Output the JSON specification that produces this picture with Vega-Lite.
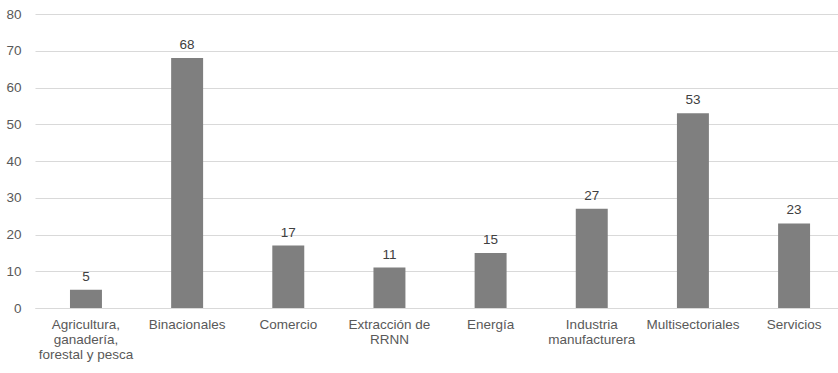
{
  "$schema": "https://vega.github.io/schema/vega-lite/v6.json",
  "width": 803,
  "height": 294,
  "autosize": {"type": "none"},
  "padding": {"left": 35, "top": 14, "right": 0, "bottom": 65},
  "background": "white",
  "config": {
    "view": {"stroke": null},
    "font": "Liberation Sans"
  },
  "data": {
    "values": [
      {"sector": "Agricultura,\nganadería,\nforestal y pesca", "n": 5},
      {"sector": "Binacionales", "n": 68},
      {"sector": "Comercio", "n": 17},
      {"sector": "Extracción de\nRRNN", "n": 11},
      {"sector": "Energía", "n": 15},
      {"sector": "Industria\nmanufacturera", "n": 27},
      {"sector": "Multisectoriales", "n": 53},
      {"sector": "Servicios", "n": 23}
    ]
  },
  "encoding": {
    "x": {
      "field": "sector",
      "type": "nominal",
      "sort": null,
      "scale": {"paddingInner": 0.684, "paddingOuter": 0.311, "align": 0.556},
      "axis": {
        "title": null,
        "labelAngle": 0,
        "labelExpr": "split(datum.label, '\\n')",
        "labelLineHeight": 15,
        "labelFontSize": 13.5,
        "labelColor": "#595959",
        "labelPadding": 9,
        "labelLimit": 0,
        "ticks": false,
        "domain": true,
        "domainColor": "#d9d9d9",
        "grid": false
      }
    },
    "y": {
      "field": "n",
      "type": "quantitative",
      "scale": {"domain": [0, 80], "nice": false},
      "axis": {
        "title": null,
        "values": [0, 10, 20, 30, 40, 50, 60, 70, 80],
        "labelOverlap": false,
        "labelFontSize": 13.5,
        "labelColor": "#595959",
        "labelPadding": 14,
        "ticks": false,
        "domain": false,
        "gridColor": "#d9d9d9",
        "gridWidth": 1
      }
    }
  },
  "layer": [
    {"mark": {"type": "bar", "color": "#7f7f7f"}},
    {
      "mark": {"type": "text", "baseline": "bottom", "dy": -6, "fontSize": 13.5, "color": "#404040"},
      "encoding": {"text": {"field": "n", "type": "quantitative"}}
    }
  ]
}
